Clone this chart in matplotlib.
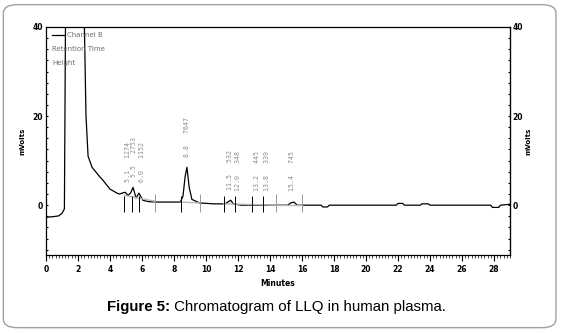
import matplotlib
matplotlib.use("Agg")
import matplotlib.pyplot as plt
from matplotlib.patches import FancyBboxPatch
from matplotlib.ticker import MultipleLocator

# chromatogram trace (minutes, mVolts)
trace_t = [0.0, 0.4, 0.8, 1.0, 1.1, 1.15, 1.2, 1.3, 1.5, 1.8, 2.1, 2.3, 2.4, 2.5,
           2.63, 2.88, 3.13, 3.35, 3.56, 3.8, 4.0, 4.2, 4.44, 4.6, 4.75, 4.94, 5.13,
           5.3, 5.44, 5.63, 5.81, 6.06, 6.4, 7.0, 7.8, 8.4, 8.56, 8.7, 8.81, 8.95,
           9.12, 9.6, 10.5, 11.2, 11.4, 11.55, 11.7, 12.2, 13.0, 14.0, 15.1, 15.3,
           15.5, 15.7, 16.5, 17.2, 17.3, 17.6, 17.7, 19.0, 20.5, 21.9, 22.0, 22.3,
           22.4, 23.4, 23.5, 23.9, 24.0, 26.0, 27.8, 27.9, 28.3, 28.4, 29.0]
trace_v = [-2.7, -2.6, -2.4, -1.8, -1.2, -0.8, 30.0, 90.0, 140.0, 150.0, 110.0, 60.0, 40.0, 20.0,
           11.0, 8.5, 7.4, 6.4, 5.6, 4.5, 3.6, 3.2, 2.7, 2.5, 2.7, 2.9, 2.2,
           2.8, 4.0, 1.6, 2.7, 1.1, 0.8, 0.7, 0.7, 0.7, 2.0, 6.5, 8.5, 4.0,
           1.3, 0.5, 0.3, 0.3, 0.8, 1.1, 0.3, 0.0, 0.0, 0.0, 0.0, 0.5,
           0.7, 0.0, 0.0, 0.0, -0.4, -0.4, 0.0, 0.0, 0.0, 0.0, 0.4, 0.4,
           0.0, 0.0, 0.3, 0.3, 0.0, 0.0, 0.0, -0.5, -0.5, 0.0, 0.2]

# integrated peaks
peak_rt = [5.1, 5.5, 6.0, 8.8, 11.5, 12.0, 13.2, 13.8, 15.4]
peak_height = [1274, 2753, 1152, 7647, 532, 348, 445, 339, 745]
peak_top = [2.9, 4.0, 2.7, 8.5, 1.1, 0.4, 0.3, 0.3, 0.8]

# peak start / end markers
start_marks = [4.9, 5.4, 5.8, 8.45, 11.1, 11.8, 12.9, 13.55]
end_marks = [6.8, 9.6, 14.4, 16.0]

# integration baselines
base_t = [[4.9, 6.8], [8.45, 9.6], [11.1, 14.4], [14.4, 16.0]]
base_v = [[2.2, 0.9], [0.7, 0.5], [0.3, 0.0], [0.0, 0.0]]

x_ticks = [0, 2, 4, 6, 8, 10, 12, 14, 16, 18, 20, 22, 24, 26, 28]
y_ticks = [0, 20, 40]

fig = plt.figure(figsize=(5.61, 3.33), dpi=100)

# rounded frame round the whole figure
frame = FancyBboxPatch((0.006, 0.016), 0.985, 0.97, boxstyle="round,pad=0,rounding_size=0.025",
                       transform=fig.transFigure, fill=False, edgecolor="#a0a0a0", linewidth=1.0)
fig.patches.append(frame)

ax = fig.add_axes([0.082, 0.234, 0.827, 0.685])
ax.plot(trace_t, trace_v, color="black", linewidth=0.9)

for bt, bv in zip(base_t, base_v):
    ax.plot(bt, bv, color="#b8b8b8", linewidth=1.0)

ax.vlines(start_marks, -1.6, 2.0, color="black", linewidth=0.7)
ax.vlines(end_marks, -1.6, 2.5, color="#999999", linewidth=0.7)

# rotated peak labels: retention time and height
for rt, h, top in zip(peak_rt, peak_height, peak_top):
    ax.text(rt, max(top + 2.4, 3.2), "%.1f   %d" % (rt, h), rotation=90, ha="center", va="bottom",
            fontsize=4.8, color="#8c8c8c", family="DejaVu Sans Mono")

ax.set_xlim(0, 29)
ax.set_ylim(-11.2, 40)
ax.set_xticks(x_ticks)
ax.xaxis.set_minor_locator(MultipleLocator(0.2))
ax.set_yticks(y_ticks)
ax.yaxis.set_minor_locator(MultipleLocator(2.5))
ax.tick_params(axis="x", which="major", length=4, width=0.8, labelsize=5.5, pad=3)
ax.tick_params(axis="x", which="minor", length=2.5, width=0.5)
ax.tick_params(axis="y", which="both", direction="in", length=1.5, width=0.8, labelsize=5.5,
               right=True, labelright=True, pad=2)
for lab in ax.get_xticklabels() + ax.get_yticklabels():
    lab.set_fontweight("bold")
ax.set_xlabel("Minutes", fontsize=5.5, fontweight="bold", labelpad=4)
ax.set_ylabel("mVolts", fontsize=5, fontweight="bold", labelpad=5)
ry = ax.secondary_yaxis("right")
ry.set_yticks([])
ry.set_ylabel("mVolts", fontsize=5, fontweight="bold", labelpad=11)
for s in ax.spines.values():
    s.set_linewidth(0.9)

# legend block
ax.plot([0.4, 1.1], [38.2, 38.2], color="black", linewidth=0.9)
ax.text(1.3, 38.2, "Channel B", fontsize=5, color="#707070", va="center")
ax.text(0.4, 35.0, "Retention Time", fontsize=5, color="#707070", va="center")
ax.text(0.4, 31.9, "Height", fontsize=5, color="#707070", va="center")

# caption under the chart, bold lead-in
cap = fig.text(0.19, 0.077, "Figure 5:", fontsize=10.8, fontweight="bold", ha="left",
               va="center", family="Liberation Sans")
fig.add_artist(plt.Annotation(" Chromatogram of LLQ in human plasma.", xy=(1.0, 0.5),
                              xycoords=cap, va="center", ha="left", fontsize=10.8,
                              family="Liberation Sans"))

fig.savefig("out.png", dpi=100)
